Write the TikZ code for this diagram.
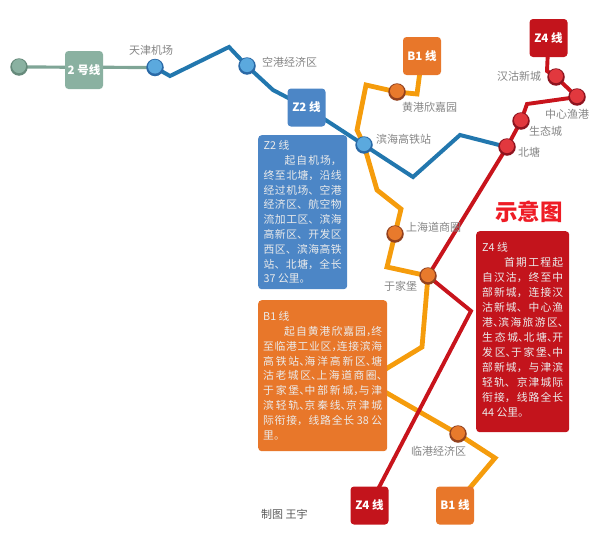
\documentclass[tikz,border=0pt]{standalone}
\usepackage{fontspec}
\setmainfont{Noto Sans CJK SC}
\usetikzlibrary{backgrounds}
\XeTeXlinebreaklocale "zh"
\XeTeXlinebreakskip=0pt plus 4pt
\hbadness=10000
\hfuzz=3pt
\definecolor{greenL}{HTML}{7FA596}
\definecolor{greenF}{HTML}{8AB1A1}
\definecolor{greenD}{HTML}{668A7B}
\definecolor{blueL}{HTML}{2277AE}
\definecolor{blueF}{HTML}{5BA9DE}
\definecolor{blueD}{HTML}{2A69A6}
\definecolor{blueB}{HTML}{4C86C6}
\definecolor{orangeL}{HTML}{F59C0C}
\definecolor{orangeF}{HTML}{E87A2C}
\definecolor{orangeD}{HTML}{93421F}
\definecolor{orangeB}{HTML}{E8772A}
\definecolor{redL}{HTML}{C8141C}
\definecolor{redF}{HTML}{E2383E}
\definecolor{redD}{HTML}{8E1420}
\definecolor{redB}{HTML}{C3141C}
\definecolor{labelgray}{HTML}{858585}
\definecolor{titlered}{HTML}{EE1C25}
\newcommand{\hw}[1]{\makebox[0.5em][l]{#1}}
\tikzset{
  stationbase/.style={circle,inner sep=0pt,minimum size=17.5pt,fill=#1},
  sgreen/.style={stationbase=greenD,path picture={\fill[greenF] (path picture bounding box.center)++(0pt,0.9pt) circle (7pt);}},
  sblue/.style={stationbase=blueD,path picture={\fill[blueF] (path picture bounding box.center)++(0pt,0.9pt) circle (7pt);}},
  sorange/.style={stationbase=orangeD,path picture={\fill[orangeF] (path picture bounding box.center)++(0pt,0.9pt) circle (7pt);}},
  sred/.style={stationbase=redD,path picture={\fill[redF] (path picture bounding box.center)++(0pt,0.9pt) circle (7pt);}},
  tagbox/.style={rounded corners=3.5pt,minimum width=38pt,minimum height=38pt,inner sep=0pt,text=white,
    font=\fontsize{11.5}{14}\selectfont\bfseries,fill=#1},
  infobox/.style={rounded corners=3.5pt,anchor=north west,fill=#1,text=white!92!black,align=justify,
    font=\fontsize{10.8}{14.8}\selectfont,inner ysep=0pt},
  lab/.style={text=labelgray,font=\fontsize{11}{13}\selectfont,inner sep=0pt},
  lgreen/.style={line width=3.2pt,draw=greenL},
  lblue/.style={line width=4pt,draw=blueL},
  lorange/.style={line width=4.8pt,draw=orangeL},
  lred/.style={line width=3.9pt,draw=redL},
}
\begin{document}
\begin{tikzpicture}[x=1pt,y=-1pt]
\useasboundingbox (0,0) rectangle (600,554);
% stations
\node[sgreen] (g0) at (19,67) {};
\node[sblue] (tj) at (155,67.5) {};
\node[sblue] (kg) at (247,66) {};
\node[sblue] (bh) at (364,145) {};
\node[sorange] (hg) at (397,92) {};
\node[sorange] (sh) at (395,234) {};
\node[sorange] (yj) at (428,276) {};
\node[sorange] (lg) at (458,434) {};
\node[sred] (hn) at (556,77) {};
\node[sred] (zx) at (577,97) {};
\node[sred] (st) at (521,121) {};
\node[sred] (bt) at (507,147) {};
% tag boxes
\node[tagbox=greenF] (t2) at (84,70) {2 号线};
\node[tagbox=blueB] (tz2) at (306.5,107.5) {Z2 线};
\node[tagbox=orangeB] (tb1) at (422,56) {B1 线};
\node[tagbox=redB] (tz4) at (548.5,38) {Z4 线};
\node[tagbox=redB] (bz4) at (369.5,505.5) {Z4 线};
\node[tagbox=orangeB] (bb1) at (455,505.5) {B1 线};
% information boxes
\node[infobox=blueB,inner xsep=5.5pt,text width=78pt,minimum height=154pt] (iz2) at (258,135) {%
Z2 线\\
\hspace*{21pt}起自机场，\linebreak
终至北塘，沿线\linebreak
经过机场、空港\linebreak
经济区、航空物\linebreak
流加工区、滨海\linebreak
高新区、开发区\linebreak
西区、滨海高铁\linebreak
站、北塘，全长\linebreak
37 公里。};
\node[infobox=orangeB,inner xsep=5pt,text width=119pt,minimum height=151pt] (ib1) at (258,300) {%
B1 线\\
\hspace*{21pt}起自黄港欣嘉园\hw{，}终\linebreak
至临港工业区\hw{，}连接滨海\linebreak
高铁站\hw{、}海洋高新区\hw{、}塘\linebreak
沽老城区\hw{、}上海道商圈\hw{、}\linebreak
于家堡\hw{、}中部新城\hw{，}与津\linebreak
滨轻轨\hw{、}京秦线\hw{、}京津城\linebreak
际衔接，线路全长 38 公\linebreak
里。};
\node[infobox=redB,inner xsep=6pt,text width=81pt,minimum height=201pt,font=\fontsize{10.8}{15}\selectfont] (iz4) at (476,231) {%
Z4 线\\
\hspace*{22pt}首期工程起\linebreak
自汉沽，终至中\linebreak
部新城，连接汉\linebreak
沽新城、中心渔\linebreak
港\hw{、}滨海旅游区\hw{、}\linebreak
生态城\hw{、}北塘\hw{、}开\linebreak
发区\hw{、}于家堡\hw{、}中\linebreak
部新城，与津滨\linebreak
轻轨、京津城际\linebreak
衔接，线路全长\linebreak
44 公里。\vspace{3pt}};
% title
\node[inner sep=0pt,text=titlered,font=\fontsize{22.5}{24}\selectfont\bfseries] (title) at (529,212) {示意图};
% labels
\node[lab] (l1) at (151,50) {天津机场};
\node[lab,anchor=west] (l2) at (262,62) {空港经济区};
\node[lab,anchor=west] (l3) at (402,107) {黄港欣嘉园};
\node[lab,anchor=west] (l4) at (376,139) {滨海高铁站};
\node[lab,anchor=west] (l5) at (497,76) {汉沽新城};
\node[lab,anchor=west] (l6) at (545,114) {中心渔港};
\node[lab,anchor=west] (l7) at (529,131) {生态城};
\node[lab,anchor=west] (l8) at (518,152) {北塘};
\node[lab,anchor=west] (l9) at (406,227) {上海道商圈};
\node[lab,anchor=west] (l10) at (384,286) {于家堡};
\node[lab,anchor=west] (l11) at (411,451) {临港经济区};
\node[lab,anchor=west,text=black!65,font=\fontsize{11}{13}\selectfont] (l12) at (261,514) {制图 王宇};
% bends
\coordinate (b1) at (170,76);
\coordinate (b2) at (229,47);
\coordinate (b3) at (273,90);
\coordinate (b4) at (413,177);
\coordinate (b5) at (460,135);
\coordinate (o1) at (417,94);
\coordinate (o2) at (366,85);
\coordinate (o3) at (357,130);
\coordinate (o4) at (377,190);
\coordinate (o5) at (401,209);
\coordinate (o6) at (387,267);
\coordinate (o7) at (422,347);
\coordinate (o8) at (366,381);
\coordinate (o9) at (495,458);
\coordinate (r1) at (527,104);
\coordinate (r2) at (471,311);
\coordinate (r0) at (547,71);
\begin{scope}[on background layer]
\draw[lgreen] (g0.center) -- (tj.center);
\draw[lorange,line join=miter] (tb1.center) -- (o1) -- (hg.center) -- (o2) -- (o3) -- (bh.center) -- (o4) -- (o5) -- (sh.center) -- (o6) -- (yj.center) -- (o7) -- (o8) -- (lg.center) -- (o9) -- (bb1.center);
\draw[lblue,line join=miter] (tj.center) -- (b1) -- (b2) -- (kg.center) -- (b3) -- (tz2.center) -- (bh.center) -- (b4) -- (b5) -- (bt.center);
\draw[lred,line join=miter] (tz4.center) -- (r0) -- (hn.center) -- (zx.center) -- (r1) -- (st.center) -- (bt.center) -- (yj.center) -- (r2) -- (bz4.center);
\end{scope}
\end{tikzpicture}
\end{document}
